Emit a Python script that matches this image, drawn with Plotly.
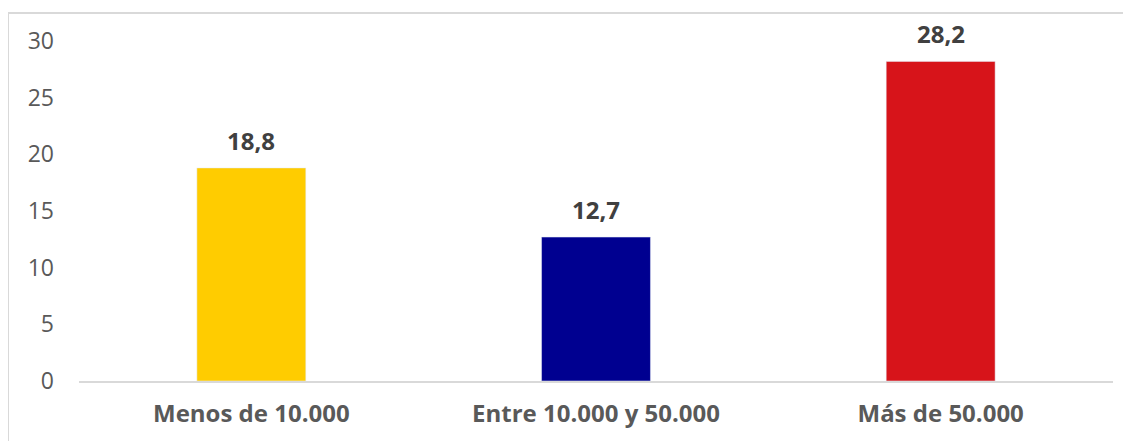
import plotly.graph_objects as go

categories = ["Menos de 10.000", "Entre 10.000 y 50.000", "Más de 50.000"]
values = [18.8, 12.7, 28.2]
colors = ["#FFCC00", "#000090", "#D7141A"]
y_ticks = [0, 5, 10, 15, 20, 25, 30]

# page body has an 8px margin, so the figure is shrunk and margins shifted by 8px
OFF = 8
W, H = 1131 - OFF, 441 - OFF
L, R, T, B = 79 - OFF, 18, 41 - OFF, 60
pw, ph = W - L - R, H - T - B

fig = go.Figure(go.Bar(x=categories, y=values, marker_color=colors, width=0.316))

for c, v in zip(categories, values):
    fig.add_annotation(x=c, y=v, text="<b>" + f"{v:.1f}".replace(".", ",") + "</b>",
                       showarrow=False, yanchor="bottom", yshift=9,
                       font=dict(family="Open Sans", size=24, color="#404040"))

fig.add_shape(type="rect", xref="paper", yref="paper",
              x0=(8 - OFF - L) / pw, x1=(W + 20 - L) / pw,
              y0=(H - B - (H + 20)) / ph, y1=(H - B - (13 - OFF)) / ph,
              line=dict(color="#D9D9D9", width=2), fillcolor="rgba(0,0,0,0)", layer="below")

fig.update_layout(
    width=W, height=H, margin=dict(l=L, r=R, t=T, b=B, autoexpand=False),
    plot_bgcolor="white", paper_bgcolor="white", showlegend=False,
    font=dict(family="Open Sans", color="#595959"),
    xaxis=dict(showgrid=False, showline=True, linecolor="#D9D9D9", linewidth=2,
               tickfont=dict(size=24, color="#595959", weight="bold"), ticks="",
               ticklabelstandoff=10),
    yaxis=dict(range=[0, 30], tickvals=y_ticks, showgrid=False, zeroline=False,
               showline=False, ticks="", tickfont=dict(size=23, color="#595959"),
               ticklabelstandoff=24),
)
fig.write_html("out.html")
